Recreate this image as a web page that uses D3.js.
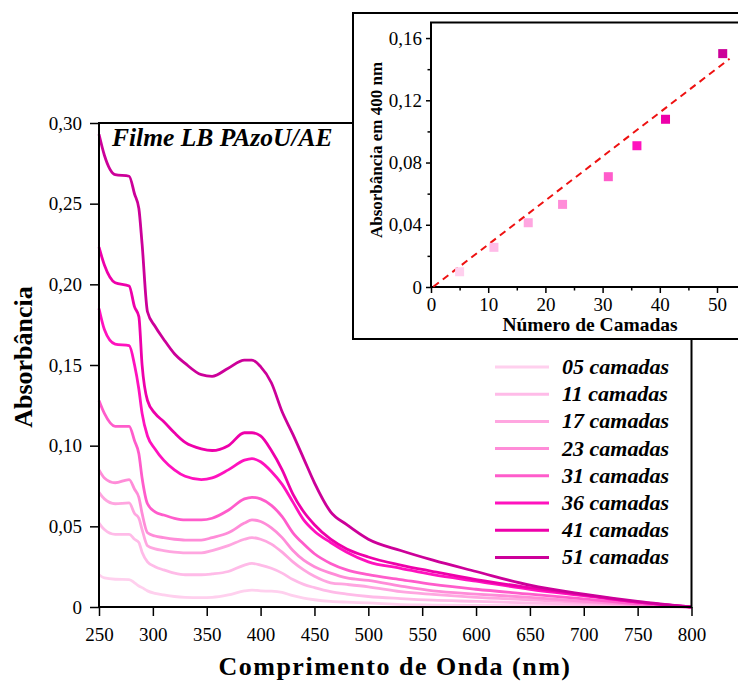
<!DOCTYPE html>
<html>
<head>
<meta charset="utf-8">
<script src="https://cdn.jsdelivr.net/npm/d3@7"></script>
<style>
  body { margin: 0; background: #fff; }
  text { font-family: "Liberation Serif", "Times New Roman", serif; }
</style>
</head>
<body>
<svg id="mainSvg" width="738" height="683"></svg>
<script>
// comprimentos de onda amostrados (nm)
const wavelengths = [250, 255, 265, 278, 283, 287, 290, 295, 302, 310, 320, 330, 345, 355, 370, 385, 392, 400, 410, 420, 430, 440, 450, 465, 480, 500, 530, 560, 600, 650, 700, 750, 800];

const seriesNames = ["05 camadas", "11 camadas", "17 camadas", "23 camadas", "31 camadas", "36 camadas", "41 camadas", "51 camadas"];
const seriesColors = ["#FFD0EE", "#FFBBE8", "#FFA6E0", "#FF8CD8", "#FF5CCB", "#FF12BE", "#EE00AA", "#CC0099"];

const abs05 = [0.020, 0.018, 0.0172, 0.017, 0.015, 0.013, 0.012, 0.010, 0.0085, 0.0075, 0.0065, 0.006, 0.0058, 0.006, 0.0075, 0.010, 0.0105, 0.010, 0.0098, 0.009, 0.007, 0.0055, 0.0045, 0.0035, 0.003, 0.0025, 0.0015, 0.0012, 0.001, 0.0008, 0.0005, 0.0002, 0];
const abs11 = [0.052, 0.048, 0.045, 0.045, 0.042, 0.040, 0.034, 0.028, 0.025, 0.023, 0.021, 0.020, 0.020, 0.0205, 0.022, 0.026, 0.027, 0.026, 0.024, 0.021, 0.017, 0.014, 0.012, 0.0095, 0.008, 0.0065, 0.0052, 0.0042, 0.0035, 0.0025, 0.0015, 0.0008, 0];
const abs17 = [0.071, 0.067, 0.064, 0.0645, 0.058, 0.055, 0.048, 0.038, 0.036, 0.035, 0.034, 0.0335, 0.0335, 0.035, 0.038, 0.042, 0.043, 0.042, 0.039, 0.034, 0.028, 0.023, 0.019, 0.015, 0.014, 0.0125, 0.0095, 0.0078, 0.006, 0.0045, 0.0028, 0.0012, 0];
const abs23 = [0.085, 0.080, 0.077, 0.079, 0.073, 0.068, 0.058, 0.046, 0.044, 0.043, 0.042, 0.0415, 0.0415, 0.043, 0.046, 0.052, 0.054, 0.053, 0.049, 0.043, 0.035, 0.029, 0.025, 0.021, 0.018, 0.0165, 0.013, 0.010, 0.008, 0.006, 0.0035, 0.0015, 0];
const abs31 = [0.128, 0.120, 0.112, 0.112, 0.103, 0.095, 0.080, 0.064, 0.059, 0.057, 0.055, 0.054, 0.054, 0.055, 0.060, 0.067, 0.068, 0.067, 0.063, 0.056, 0.046, 0.039, 0.033, 0.027, 0.023, 0.020, 0.017, 0.014, 0.011, 0.008, 0.005, 0.002, 0];
const abs36 = [0.185, 0.172, 0.163, 0.162, 0.150, 0.135, 0.120, 0.106, 0.098, 0.091, 0.085, 0.081, 0.079, 0.080, 0.085, 0.091, 0.092, 0.090, 0.084, 0.076, 0.065, 0.054, 0.047, 0.040, 0.034, 0.028, 0.024, 0.020, 0.016, 0.011, 0.007, 0.003, 0];
const abs41 = [0.223, 0.212, 0.201, 0.199, 0.186, 0.180, 0.150, 0.128, 0.120, 0.115, 0.108, 0.102, 0.098, 0.097, 0.100, 0.108, 0.108, 0.106, 0.097, 0.085, 0.070, 0.059, 0.051, 0.042, 0.036, 0.031, 0.026, 0.022, 0.017, 0.012, 0.0075, 0.003, 0];
const abs51 = [0.293, 0.280, 0.268, 0.267, 0.256, 0.247, 0.225, 0.183, 0.174, 0.166, 0.157, 0.151, 0.144, 0.143, 0.148, 0.153, 0.153, 0.149, 0.139, 0.121, 0.107, 0.092, 0.077, 0.059, 0.051, 0.042, 0.035, 0.029, 0.022, 0.0135, 0.008, 0.0035, 0];
const spectra = [abs05, abs11, abs17, abs23, abs31, abs36, abs41, abs51];

const xTicks = [250, 300, 350, 400, 450, 500, 550, 600, 650, 700, 750, 800];
const yTicks = [0, 0.05, 0.10, 0.15, 0.20, 0.25, 0.30];

// inserto: absorbância em 400 nm vs número de camadas
const layers = [5, 11, 17, 23, 31, 36, 41, 51];
const abs400 = [0.0098, 0.0255, 0.0413, 0.0531, 0.0709, 0.0908, 0.1078, 0.150];
const fitSlope = 0.00283, fitIntercept = -0.001;
const fitRange = [0.4, 52.2];
const insetXTicks = [0, 10, 20, 30, 40, 50];
const insetXMinor = [5, 15, 25, 35, 45, 55];
const insetYTicks = [0, 0.04, 0.08, 0.12, 0.16];
const insetYMinor = [0.02, 0.06, 0.10, 0.14];

let svg = d3.select('#mainSvg');
const serif = '"Liberation Serif", "Times New Roman", serif';
const comma = d => d === 0 ? "0" : d3.format(".2f")(d).replace(".", ",");

/**
 * gráfico principal
 */
const x = d3.scaleLinear().domain([250, 800]).range([99, 691.5]);
const y = d3.scaleLinear().domain([0, 0.30]).range([607, 123]);

const line = d3.line()
    .x(d => x(d[0]))
    .y(d => y(d[1]))
    .curve(d3.curveMonotoneX);

svg.append("g").selectAll("path").data(spectra).join("path")
    .attr("d", vals => line(wavelengths.map((w, i) => [w, vals[i]])))
    .attr("fill", "none")
    .attr("stroke", (d, i) => seriesColors[i])
    .attr("stroke-width", 2.8)
    .attr("stroke-linejoin", "round");

svg.append("rect")
    .attr("x", 99).attr("y", 123)
    .attr("width", 592.5).attr("height", 484)
    .attr("fill", "none").attr("stroke", "black").attr("stroke-width", 2);

const styleAxis = g => {
    g.attr("font-family", serif);
    g.select(".domain").remove();
    g.selectAll("line").attr("stroke", "black").attr("stroke-width", 1.5);
    g.selectAll("text").attr("font-size", "19px").attr("fill", "black").style("font-family", serif);
};

svg.append("g")
    .attr("transform", "translate(0,607)")
    .call(d3.axisBottom(x).tickValues(xTicks).tickSize(9).tickPadding(12).tickFormat(d3.format("d")))
    .call(styleAxis);

svg.append("g")
    .attr("transform", "translate(99,0)")
    .call(d3.axisLeft(y).tickValues(yTicks).tickSize(9).tickPadding(8).tickFormat(comma))
    .call(styleAxis);

svg.append("text")
    .text("Comprimento de Onda (nm)")
    .attr("x", 395).attr("y", 675)
    .attr("text-anchor", "middle")
    .attr("font-size", "26px").attr("font-weight", "bold")
    .attr("letter-spacing", "1.5px");

svg.append("text")
    .text("Absorbância")
    .attr("text-anchor", "middle")
    .attr("transform", "translate(32,357) rotate(-90)")
    .attr("font-size", "26px").attr("font-weight", "bold");

svg.append("text")
    .text("Filme LB PAzoU/AE")
    .attr("x", 112).attr("y", 146)
    .attr("font-size", "25.5px").attr("font-weight", "bold").attr("font-style", "italic");

// legenda
const legend = svg.append("g").selectAll("g").data(seriesNames).join("g")
    .attr("transform", (d, i) => `translate(0,${367 + i * 27.2})`);
legend.append("line")
    .attr("x1", 495).attr("x2", 549)
    .attr("stroke", (d, i) => seriesColors[i])
    .attr("stroke-width", 3);
legend.append("text")
    .text(d => d)
    .attr("x", 562).attr("y", 7)
    .attr("font-size", "22px").attr("font-weight", "bold").attr("font-style", "italic");

/**
 * inserto
 */
const inset = svg.append("g");
inset.append("rect")
    .attr("x", 353).attr("y", 13)
    .attr("width", 400).attr("height", 326)
    .attr("fill", "white").attr("stroke", "black").attr("stroke-width", 2);

const xi = d3.scaleLinear().domain([0, 55]).range([431, 745.6]);
const yi = d3.scaleLinear().domain([0, 0.17]).range([287, 22.5]);

inset.append("rect")
    .attr("x", 431).attr("y", yi(0.17))
    .attr("width", 400).attr("height", yi(0) - yi(0.17))
    .attr("fill", "none").attr("stroke", "black").attr("stroke-width", 2);

inset.append("g")
    .attr("transform", "translate(0,287)")
    .call(d3.axisBottom(xi).tickValues(insetXTicks).tickSize(6).tickPadding(5).tickFormat(d3.format("d")))
    .call(styleAxis);
inset.append("g")
    .attr("transform", "translate(0,287)")
    .call(d3.axisBottom(xi).tickValues(insetXMinor).tickSize(3.5).tickFormat(""))
    .call(styleAxis);
inset.append("g")
    .attr("transform", "translate(431,0)")
    .call(d3.axisLeft(yi).tickValues(insetYTicks).tickSize(5).tickPadding(4).tickFormat(comma))
    .call(styleAxis);
inset.append("g")
    .attr("transform", "translate(431,0)")
    .call(d3.axisLeft(yi).tickValues(insetYMinor).tickSize(3.5).tickFormat(""))
    .call(styleAxis);

inset.append("line")
    .attr("x1", xi(fitRange[0])).attr("y1", yi(fitIntercept + fitSlope * fitRange[0]))
    .attr("x2", xi(fitRange[1])).attr("y2", yi(fitIntercept + fitSlope * fitRange[1]))
    .attr("stroke", "#EE1111").attr("stroke-width", 2)
    .attr("stroke-dasharray", "7,5");

inset.append("g").selectAll("rect").data(layers).join("rect")
    .attr("x", d => xi(d) - 4.5)
    .attr("y", (d, i) => yi(abs400[i]) - 4.5)
    .attr("width", 9).attr("height", 9)
    .attr("fill", (d, i) => seriesColors[i]);

inset.append("text")
    .text("Número de Camadas")
    .attr("x", 590).attr("y", 331)
    .attr("text-anchor", "middle")
    .attr("font-size", "19.5px").attr("font-weight", "bold");

inset.append("text")
    .text("Absorbância em 400 nm")
    .attr("text-anchor", "middle")
    .attr("transform", "translate(382,150) rotate(-90)")
    .attr("font-size", "17px").attr("font-weight", "bold");
</script>
</body>
</html>
